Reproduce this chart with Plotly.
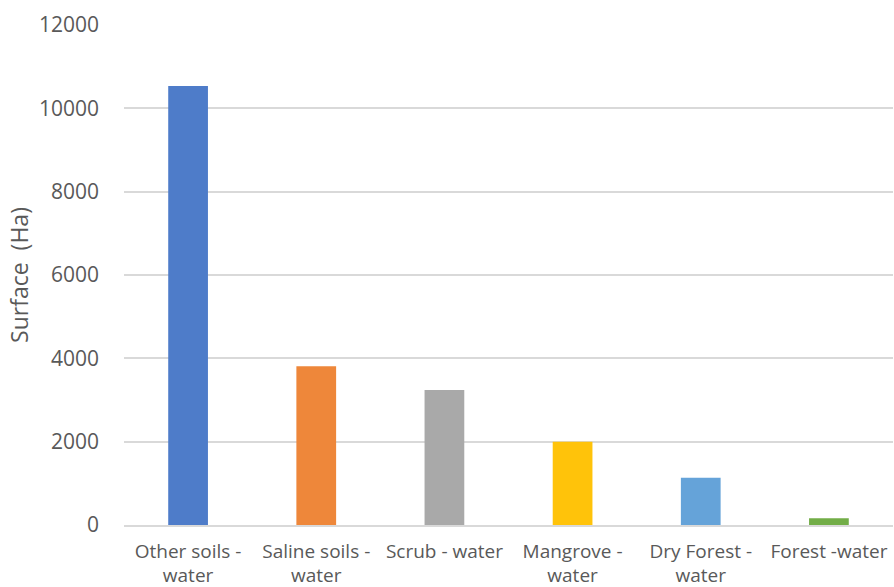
import plotly.graph_objects as go

categories = ["Other soils -<br>water", "Saline soils -<br>water", "Scrub - water",
              "Mangrove -<br>water", "Dry Forest -<br>water", "Forest -water"]
values = [10535, 3810, 3240, 2000, 1135, 160]
colors = ["#4E7CC9", "#EE873A", "#A9A9A9", "#FFC30A", "#65A3D9", "#72AD47"]
y_ticks = [0, 2000, 4000, 6000, 8000, 10000, 12000]

fig = go.Figure(go.Bar(x=categories, y=values, marker=dict(color=colors, line=dict(width=0)),
                       width=0.31))

font_color = "#595959"
fig.update_layout(
    width=894, height=587,
    margin=dict(l=124, r=1, t=25, b=62),
    paper_bgcolor="white", plot_bgcolor="white",
    font=dict(family="'Open Sans', sans-serif", size=19, color=font_color),
    showlegend=False,
    bargap=0.69,
)
fig.update_yaxes(range=[0, 12000], tickvals=y_ticks, ticktext=[str(v) for v in y_ticks],
                 showgrid=True, gridcolor="#D9D9D9", gridwidth=1.5, zeroline=False,
                 showline=False, ticks="", ticklabelstandoff=24, automargin=False,
                 tickfont=dict(size=21),
                 title=dict(text="Surface  (Ha)", standoff=3, font=dict(size=23, color=font_color)))
fig.update_xaxes(showline=True, linecolor="#D9D9D9", linewidth=1.5, ticks="",
                 tickangle=0, ticklabelstandoff=8, automargin=False)

fig.write_html("out.html", config={"displayModeBar": False},
               post_script="document.body.style.margin='0';document.body.style.overflow='hidden';")
